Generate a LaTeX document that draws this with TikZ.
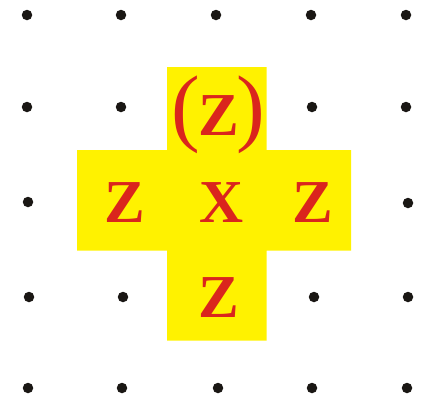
\documentclass[tikz,border=0pt]{standalone}
\usepackage{fontspec}
\setmainfont{Liberation Serif}
\definecolor{crossyellow}{HTML}{FFF200}
\definecolor{letterred}{HTML}{DA251D}
\definecolor{dotblack}{HTML}{1A1714}
\newcommand{\bigparen}[1]{{\fontsize{86}{86}\selectfont\mdseries #1}}
\begin{document}
\begin{tikzpicture}[x=1pt,y=-1pt,
  gdot/.style={circle,fill=dotblack,inner sep=0pt,minimum size=10.5pt},
  lett/.style={text=letterred,font=\fontsize{61}{61}\selectfont\bfseries,inner sep=0pt,anchor=center}]
\useasboundingbox (0,0) rectangle (423,400);
% cross
\fill[crossyellow] (167,67) -- (266.5,67) -- (266.5,150) -- (351,150) -- (351,250.5)
  -- (266.5,250.5) -- (266.5,340.5) -- (167,340.5) -- (167,250.5) -- (77,250.5)
  -- (77,150) -- (167,150) -- cycle;
% dots
\node[gdot] (d11) at (27,15) {};
\node[gdot] (d12) at (121,15) {};
\node[gdot] (d13) at (216,15) {};
\node[gdot] (d14) at (311,15) {};
\node[gdot] (d15) at (406,15) {};
\node[gdot] (d21) at (27,107) {};
\node[gdot] (d22) at (121,107) {};
\node[gdot] (d24) at (312,107) {};
\node[gdot] (d25) at (406,107) {};
\node[gdot] (d31) at (28,202) {};
\node[gdot] (d35) at (408,203) {};
\node[gdot] (d41) at (29,297) {};
\node[gdot] (d42) at (123,297) {};
\node[gdot] (d44) at (314,297) {};
\node[gdot] (d45) at (408,297) {};
\node[gdot] (d51) at (28,388) {};
\node[gdot] (d52) at (122,388) {};
\node[gdot] (d53) at (218,388) {};
\node[gdot] (d54) at (312,388) {};
\node[gdot] (d55) at (407,388) {};
% letters
\node[lett,anchor=base] (top) at (218.5,135.5) {\bigparen{(}\kern-2pt Z\kern-2pt\bigparen{)}};
\node[lett] (left) at (125,203) {Z};
\node[lett] (mid) at (222,203) {X};
\node[lett] (right) at (313,203) {Z};
\node[lett] (bot) at (219,298) {Z};
\end{tikzpicture}
\end{document}
